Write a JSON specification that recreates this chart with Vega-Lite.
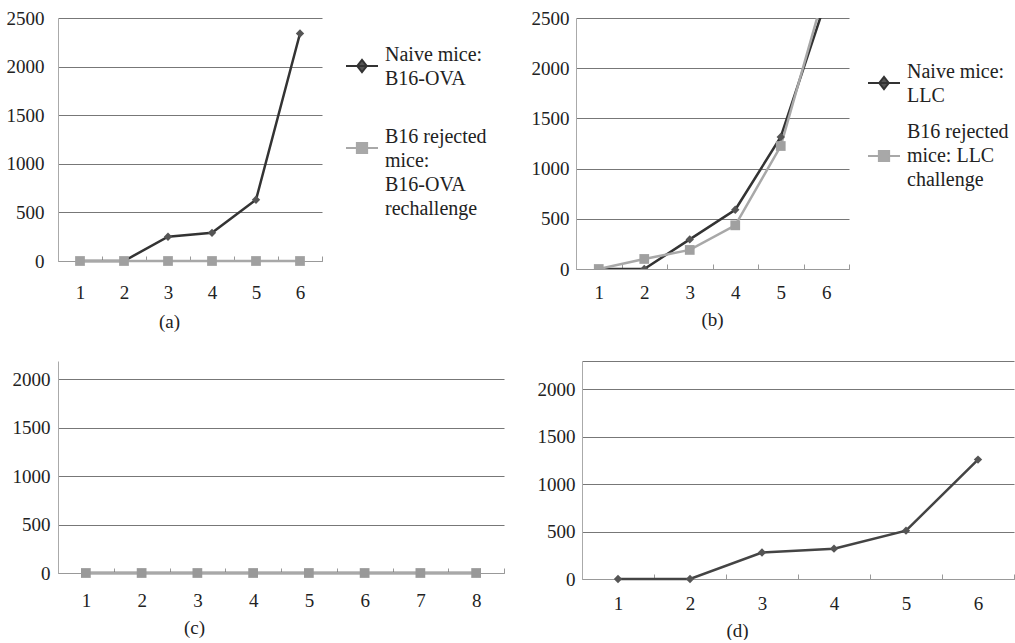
{
  "$schema": "https://vega.github.io/schema/vega-lite/v6.json",
  "padding": {"left": 6, "top": 9, "right": 0, "bottom": 0},
  "background": "white",
  "config": {
    "font": "Liberation Serif, Times New Roman, serif",
    "view": {"stroke": null},
    "text": {"font": "Liberation Serif, Times New Roman, serif"},
    "axis": {"labelFont": "Liberation Serif, Times New Roman, serif", "labelFontSize": 19, "labelColor": "#222", "titleFont": "Liberation Serif, Times New Roman, serif", "titleFontSize": 19, "titleFontWeight": "normal", "titleColor": "#222", "domainColor": "#999", "gridColor": "#777", "tickColor": "#999"},
    "axisY": {"ticks": false, "grid": true, "gridWidth": 1, "domainColor": "#aaa", "format": "d"},
    "axisX": {"grid": false, "labelAngle": 0, "tickBand": "extent", "tickSize": -5, "labelPadding": 14, "titleAlign": "center", "titlePadding": 8},
    "legend": {"orient": "none", "title": null, "labelFont": "Liberation Serif, Times New Roman, serif", "labelFontSize": 20, "labelColor": "#222", "labelLimit": 0, "symbolSize": 1024, "symbolStrokeWidth": 2, "rowPadding": 31, "labelOffset": 6}
  },
  "data": {"values": [
    {"panel": "a", "series": "Naive mice: B16-OVA", "day": 1, "value": 0},
    {"panel": "a", "series": "Naive mice: B16-OVA", "day": 2, "value": 0},
    {"panel": "a", "series": "Naive mice: B16-OVA", "day": 3, "value": 250},
    {"panel": "a", "series": "Naive mice: B16-OVA", "day": 4, "value": 290},
    {"panel": "a", "series": "Naive mice: B16-OVA", "day": 5, "value": 630},
    {"panel": "a", "series": "Naive mice: B16-OVA", "day": 6, "value": 2340},
    {"panel": "a", "series": "B16 rejected mice: B16-OVA rechallenge", "day": 1, "value": 0},
    {"panel": "a", "series": "B16 rejected mice: B16-OVA rechallenge", "day": 2, "value": 0},
    {"panel": "a", "series": "B16 rejected mice: B16-OVA rechallenge", "day": 3, "value": 0},
    {"panel": "a", "series": "B16 rejected mice: B16-OVA rechallenge", "day": 4, "value": 0},
    {"panel": "a", "series": "B16 rejected mice: B16-OVA rechallenge", "day": 5, "value": 0},
    {"panel": "a", "series": "B16 rejected mice: B16-OVA rechallenge", "day": 6, "value": 0},
    {"panel": "b", "series": "Naive mice: LLC", "day": 1, "value": 0},
    {"panel": "b", "series": "Naive mice: LLC", "day": 2, "value": 0},
    {"panel": "b", "series": "Naive mice: LLC", "day": 3, "value": 295},
    {"panel": "b", "series": "Naive mice: LLC", "day": 4, "value": 590},
    {"panel": "b", "series": "Naive mice: LLC", "day": 5, "value": 1315},
    {"panel": "b", "series": "Naive mice: LLC", "day": 6, "value": 2680},
    {"panel": "b", "series": "B16 rejected mice: LLC challenge", "day": 1, "value": 0},
    {"panel": "b", "series": "B16 rejected mice: LLC challenge", "day": 2, "value": 100},
    {"panel": "b", "series": "B16 rejected mice: LLC challenge", "day": 3, "value": 190},
    {"panel": "b", "series": "B16 rejected mice: LLC challenge", "day": 4, "value": 435},
    {"panel": "b", "series": "B16 rejected mice: LLC challenge", "day": 5, "value": 1225},
    {"panel": "b", "series": "B16 rejected mice: LLC challenge", "day": 6, "value": 2820},
    {"panel": "c", "series": "Naive mice", "day": 1, "value": 0},
    {"panel": "c", "series": "Naive mice", "day": 2, "value": 0},
    {"panel": "c", "series": "Naive mice", "day": 3, "value": 0},
    {"panel": "c", "series": "Naive mice", "day": 4, "value": 0},
    {"panel": "c", "series": "Naive mice", "day": 5, "value": 0},
    {"panel": "c", "series": "Naive mice", "day": 6, "value": 0},
    {"panel": "c", "series": "Naive mice", "day": 7, "value": 0},
    {"panel": "c", "series": "Naive mice", "day": 8, "value": 0},
    {"panel": "c", "series": "B16 rejected mice", "day": 1, "value": 0},
    {"panel": "c", "series": "B16 rejected mice", "day": 2, "value": 0},
    {"panel": "c", "series": "B16 rejected mice", "day": 3, "value": 0},
    {"panel": "c", "series": "B16 rejected mice", "day": 4, "value": 0},
    {"panel": "c", "series": "B16 rejected mice", "day": 5, "value": 0},
    {"panel": "c", "series": "B16 rejected mice", "day": 6, "value": 0},
    {"panel": "c", "series": "B16 rejected mice", "day": 7, "value": 0},
    {"panel": "c", "series": "B16 rejected mice", "day": 8, "value": 0},
    {"panel": "d", "series": "Naive mice", "day": 1, "value": 0},
    {"panel": "d", "series": "Naive mice", "day": 2, "value": 0},
    {"panel": "d", "series": "Naive mice", "day": 3, "value": 280},
    {"panel": "d", "series": "Naive mice", "day": 4, "value": 320},
    {"panel": "d", "series": "Naive mice", "day": 5, "value": 510},
    {"panel": "d", "series": "Naive mice", "day": 6, "value": 1260}
  ]},
  "resolve": {"scale": {"color": "independent"}, "legend": {"color": "independent"}},
  "columns": 1,
  "align": "none",
  "spacing": 30,
  "concat": [
    {
      "spacing": 254,
      "bounds": "flush",
      "resolve": {"scale": {"color": "independent"}, "legend": {"color": "independent"}},
      "hconcat": [
        {
          "width": 264, "height": 243,
          "transform": [{"filter": "datum.panel == 'a'"}],
          "encoding": {
            "x": {"field": "day", "type": "ordinal", "bandPosition": 0.5, "scale": {"type": "band", "paddingInner": 0, "paddingOuter": 0}, "axis": {"title": "(a)", "titleX": 111, "titlePadding": 10, "labelPadding": 27}},
            "y": {"field": "value", "type": "quantitative", "scale": {"domain": [0, 2500], "nice": false}, "axis": {"values": [0, 500, 1000, 1500, 2000, 2500], "title": null, "labelPadding": 14}}
          },
          "layer": [
            {"mark": {"type": "line", "strokeWidth": 2.5},
             "encoding": {"color": {"field": "series", "type": "nominal", "sort": null,
               "scale": {"domain": ["Naive mice: B16-OVA", "B16 rejected mice: B16-OVA rechallenge"], "range": ["#333333", "#a8a8a8"]},
               "legend": {"legendX": 287, "legendY": 31, "rowPadding": 38,
                 "labelExpr": "datum.label == 'Naive mice: B16-OVA' ? ['Naive mice:', 'B16-OVA'] : ['B16 rejected', 'mice:', 'B16-OVA', 'rechallenge']",
                 "encode": {
                   "symbols": {"update": {
                     "shape": {"signal": "datum.value == 'Naive mice: B16-OVA' ? 'M-1,0L1,0M0,-0.38L0.3,0L0,0.38L-0.3,0Z' : 'M-1,0L1,0M-0.32,-0.32L0.32,-0.32L0.32,0.32L-0.32,0.32Z'"},
                     "fill": {"signal": "datum.value == 'Naive mice: B16-OVA' ? '#555555' : '#a8a8a8'"},
                     "stroke": {"signal": "datum.value == 'Naive mice: B16-OVA' ? '#333333' : '#b0b0b0'"}}},
                   "labels": {"update": {"lineHeight": {"value": 24}, "dy": {"value": -11}}}}}}}},
            {"transform": [{"filter": "datum.series == 'Naive mice: B16-OVA'"}],
             "mark": {"type": "point", "filled": true, "opacity": 1, "shape": "diamond", "size": 70, "color": "#555555"}},
            {"transform": [{"filter": "datum.series != 'Naive mice: B16-OVA'"}],
             "mark": {"type": "point", "filled": true, "opacity": 1, "shape": "square", "size": 95, "color": "#a0a0a0"}}
          ]
        },
        {
          "width": 273, "height": 251,
          "transform": [{"filter": "datum.panel == 'b'"}],
          "encoding": {
            "x": {"field": "day", "type": "ordinal", "bandPosition": 0.5, "scale": {"type": "band", "paddingInner": 0, "paddingOuter": 0}, "axis": {"title": "(b)", "titleX": 136, "titlePadding": 8, "labelPadding": 19}},
            "y": {"field": "value", "type": "quantitative", "scale": {"domain": [0, 2500], "nice": false}, "axis": {"values": [0, 500, 1000, 1500, 2000, 2500], "title": null, "labelPadding": 7}}
          },
          "layer": [
            {"mark": {"type": "line", "strokeWidth": 2.5, "clip": true},
             "encoding": {"color": {"field": "series", "type": "nominal", "sort": null,
               "scale": {"domain": ["Naive mice: LLC", "B16 rejected mice: LLC challenge"], "range": ["#333333", "#a8a8a8"]},
               "legend": {"legendX": 291, "legendY": 48, "rowPadding": 16,
                 "labelExpr": "datum.label == 'Naive mice: LLC' ? ['Naive mice:', 'LLC'] : ['B16 rejected', 'mice: LLC', 'challenge']",
                 "encode": {
                   "symbols": {"update": {
                     "shape": {"signal": "datum.value == 'Naive mice: LLC' ? 'M-1,0L1,0M0,-0.38L0.3,0L0,0.38L-0.3,0Z' : 'M-1,0L1,0M-0.32,-0.32L0.32,-0.32L0.32,0.32L-0.32,0.32Z'"},
                     "fill": {"signal": "datum.value == 'Naive mice: LLC' ? '#555555' : '#a8a8a8'"},
                     "stroke": {"signal": "datum.value == 'Naive mice: LLC' ? '#333333' : '#b0b0b0'"}}},
                   "labels": {"update": {"lineHeight": {"value": 24}, "dy": {"signal": "datum.value == 'Naive mice: LLC' ? -11 : -24"}}}}}}}},
            {"transform": [{"filter": "datum.series == 'Naive mice: LLC'"}],
             "mark": {"type": "point", "filled": true, "opacity": 1, "shape": "diamond", "size": 70, "color": "#555555", "clip": true}},
            {"transform": [{"filter": "datum.series != 'Naive mice: LLC'"}],
             "mark": {"type": "point", "filled": true, "opacity": 1, "shape": "square", "size": 95, "color": "#a0a0a0", "clip": true}}
          ]
        }
      ]
    },
    {
      "spacing": 78,
      "bounds": "flush",
      "resolve": {"scale": {"color": "independent"}, "legend": {"color": "independent"}},
      "hconcat": [
        {
          "width": 446, "height": 212,
          "transform": [{"filter": "datum.panel == 'c'"}],
          "encoding": {
            "x": {"field": "day", "type": "ordinal", "bandPosition": 0.5, "scale": {"type": "band", "paddingInner": 0, "paddingOuter": 0}, "axis": {"title": "(c)", "titleX": 136, "titlePadding": 8, "labelPadding": 23}},
            "y": {"field": "value", "type": "quantitative", "scale": {"domain": [0, 2186], "nice": false}, "axis": {"values": [0, 500, 1000, 1500, 2000], "title": null, "labelPadding": 8}}
          },
          "layer": [
            {"mark": {"type": "line", "strokeWidth": 2.5},
             "encoding": {"color": {"field": "series", "type": "nominal", "sort": null, "scale": {"domain": ["Naive mice", "B16 rejected mice"], "range": ["#333333", "#a8a8a8"]}, "legend": null}}},
            {"transform": [{"filter": "datum.series == 'Naive mice'"}],
             "mark": {"type": "point", "filled": true, "opacity": 1, "shape": "diamond", "size": 70, "color": "#555555"}},
            {"transform": [{"filter": "datum.series != 'Naive mice'"}],
             "mark": {"type": "point", "filled": true, "opacity": 1, "shape": "square", "size": 95, "color": "#999999"}}
          ]
        },
        {
          "width": 432, "height": 218,
          "transform": [{"filter": "datum.panel == 'd'"}],
          "encoding": {
            "x": {"field": "day", "type": "ordinal", "bandPosition": 0.5, "scale": {"type": "band", "paddingInner": 0, "paddingOuter": 0}, "axis": {"title": "(d)", "titleX": 155, "titlePadding": 8, "labelPadding": 20}},
            "y": {"field": "value", "type": "quantitative", "scale": {"domain": [0, 2300], "nice": false}, "axis": {"values": [0, 500, 1000, 1500, 2000, 2300], "labelExpr": "datum.value == 2300 ? '' : datum.label", "title": null, "labelPadding": 7}}
          },
          "layer": [
            {"mark": {"type": "line", "strokeWidth": 2.5, "color": "#444444"}},
            {"mark": {"type": "point", "filled": true, "opacity": 1, "shape": "diamond", "size": 70, "color": "#555555"}}
          ]
        }
      ]
    }
  ]
}
